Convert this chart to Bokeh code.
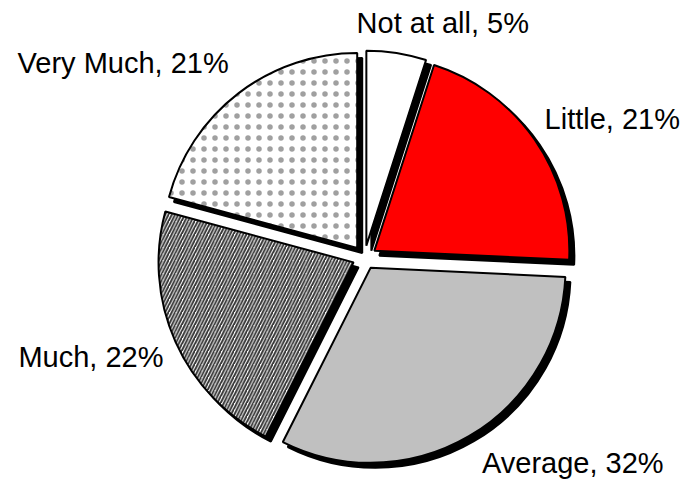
import numpy as np
from bokeh.plotting import figure
from bokeh.models import Range1d, ColumnDataSource
from bokeh.core.properties import value
from bokeh.embed import file_html
from bokeh.resources import INLINE

# ---- data ----
categories = ["Not at all", "Little", "Average", "Much", "Very Much"]
percents = [5, 21, 32, 22, 21]

# ---- styles ----
fill_colors = ["#FFFFFF", "#FF0000", "#C0C0C0", "#FFFFFF", "#FFFFFF"]
hatch_patterns = [" ", " ", " ", "/", "."]
hatch_colors = ["#000000", "#000000", "#000000", "#333333", "#A0A0A0"]
hatch_scales = [6, 6, 6, 6.5, 11]
hatch_weights = [1, 1, 1, 1.9, 1]
label_align = ["left", "left", "left", "right", "right"]
label_dx = [-40, 10, 13, -12, -10]
label_dy = [-30, -21, 27, 15, -30]

# ---- geometry (pixel-like data units) ----
cx, cy = 364.0, -257.0
R = 195.0
explode = 12.0
sh_dx, sh_dy = 5.0, -5.0

vals = np.array(percents, dtype=float)
frac = vals / vals.sum()
ends = np.cumsum(frac) * 2 * np.pi
starts = ends - frac * 2 * np.pi
mid = (starts + ends) / 2.0
vx = cx + explode * np.sin(mid)
vy = cy + explode * np.cos(mid)

src = ColumnDataSource(dict(
    x=vx, y=vy,
    sx=vx + sh_dx, sy=vy + sh_dy,
    start=np.pi / 2 - ends, end=np.pi / 2 - starts,
    fill=fill_colors, hp=hatch_patterns, hc=hatch_colors,
    hs=hatch_scales, hw=hatch_weights,
))

lab = ColumnDataSource(dict(
    x=vx + R * np.sin(mid), y=vy + R * np.cos(mid),
    text=[f"{c}, {p}%" for c, p in zip(categories, percents)],
    align=label_align, dx=label_dx, dy=label_dy,
))

p = figure(width=687, height=487, x_range=Range1d(0, 687), y_range=Range1d(-487, 0),
           output_backend="svg", toolbar_location=None, min_border=0,
           x_axis_type=None, y_axis_type=None)
p.grid.visible = False
p.outline_line_color = None
p.background_fill_color = "white"
p.border_fill_color = "white"

# shadows
p.wedge(x="sx", y="sy", radius=R, start_angle="start", end_angle="end",
        fill_color="black", line_color="black", line_width=2, source=src)
# slices
p.wedge(x="x", y="y", radius=R, start_angle="start", end_angle="end",
        fill_color="fill", line_color="black", line_width=2,
        hatch_pattern="hp", hatch_color="hc", hatch_scale="hs", hatch_weight="hw",
        source=src)

p.text(x="x", y="y", text="text", text_align="align", text_baseline="alphabetic",
       x_offset="dx", y_offset="dy", text_font=value("Liberation Sans"),
       text_font_size="29px", text_color="black", source=lab)

open("out.html", "w").write(file_html(p, INLINE))
